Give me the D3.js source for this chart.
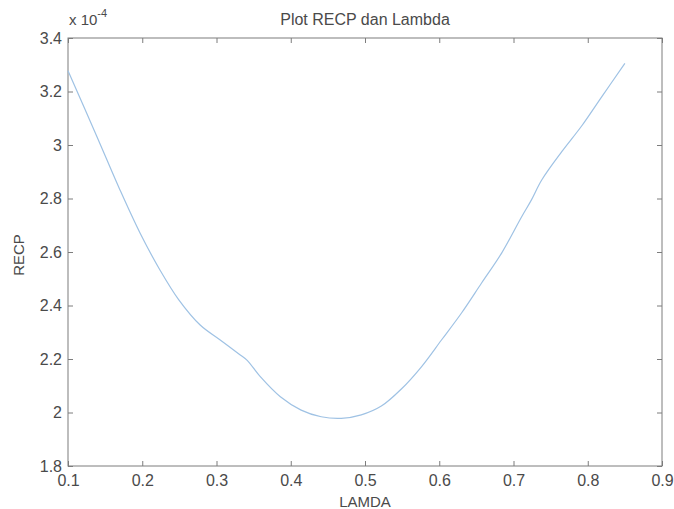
<!DOCTYPE html>
<html>
<head>
<meta charset="utf-8">
<script src="https://cdn.jsdelivr.net/npm/d3@7"></script>
<style>
  body { margin: 0; background: #fff; }
  text { font-family: "Liberation Sans", Arial, sans-serif; fill: #4a4a4a; }
</style>
</head>
<body>
<script>
var margin = { top: 38, right: 12, bottom: 43, left: 68 };
var width = 674 - margin.left - margin.right;
var height = 509 - margin.top - margin.bottom;

// lambda values and RECP (x 1e-4)
var lamda = [0.100, 0.139, 0.170, 0.197, 0.224, 0.249, 0.278, 0.305, 0.332, 0.341,
             0.359, 0.386, 0.414, 0.441, 0.468, 0.495, 0.522, 0.549, 0.576, 0.603,
             0.630, 0.657, 0.684, 0.711, 0.724, 0.738, 0.765, 0.792, 0.819, 0.850];
var recp = [3.278, 3.031, 2.832, 2.671, 2.532, 2.422, 2.327, 2.271, 2.215, 2.196,
            2.134, 2.059, 2.009, 1.984, 1.978, 1.991, 2.024, 2.088, 2.171, 2.271,
            2.372, 2.484, 2.596, 2.732, 2.794, 2.869, 2.975, 3.072, 3.181, 3.305];

var xTicks = [0.1, 0.2, 0.3, 0.4, 0.5, 0.6, 0.7, 0.8, 0.9];
var yTicks = [1.8, 2, 2.2, 2.4, 2.6, 2.8, 3, 3.2, 3.4];

var svg = d3.select("body")
    .append("svg")
    .attr("width", width + margin.left + margin.right)
    .attr("height", height + margin.top + margin.bottom)
    .append("g")
    .attr("transform", "translate(" + margin.left + "," + margin.top + ")");

var xscale = d3.scaleLinear().domain([0.1, 0.9]).range([0, width]);
var yscale = d3.scaleLinear().domain([1.8, 3.4]).range([height, 0]);

var axisColor = "#7d7d7d";

// ticks inward, matlab style, on all four sides
function styleAxis(g) {
    g.select(".domain").remove();
    g.selectAll("line").attr("stroke", axisColor);
    g.selectAll("text").style("font-size", "16px").attr("fill", "#4a4a4a");
}

svg.append("g")
    .attr("transform", "translate(0," + height + ")")
    .call(d3.axisBottom(xscale).tickValues(xTicks).tickSize(-5).tickPadding(9)
        .tickFormat(function (d) { return d3.format(".1f")(d); }))
    .call(styleAxis);

svg.append("g")
    .call(d3.axisTop(xscale).tickValues(xTicks).tickSize(-5).tickFormat(""))
    .call(styleAxis);

svg.append("g")
    .call(d3.axisLeft(yscale).tickValues(yTicks).tickSize(-5).tickPadding(6)
        .tickFormat(function (d) { return d3.format("~g")(d); }))
    .call(styleAxis);

svg.append("g")
    .attr("transform", "translate(" + width + ",0)")
    .call(d3.axisRight(yscale).tickValues(yTicks).tickSize(-5).tickFormat(""))
    .call(styleAxis);

svg.append("rect")
    .attr("width", width)
    .attr("height", height)
    .attr("fill", "none")
    .attr("stroke", axisColor)
    .attr("stroke-width", 1);

var line = d3.line()
    .x(function (d, i) { return xscale(lamda[i]); })
    .y(function (d) { return yscale(d); })
    .curve(d3.curveCatmullRom);

svg.append("path")
    .datum(recp)
    .attr("fill", "none")
    .attr("stroke", "#9fc2e4")
    .attr("stroke-width", 1.2)
    .attr("d", line);

// exponent label
var ex = svg.append("text")
    .attr("x", 1)
    .attr("y", -13)
    .style("font-size", "15px");
ex.append("tspan").text("x 10");
ex.append("tspan").attr("dy", -8).style("font-size", "11px").text("-4");

svg.append("text")
    .attr("x", width / 2)
    .attr("y", -13)
    .attr("text-anchor", "middle")
    .style("font-size", "16px")
    .text("Plot RECP dan Lambda");

svg.append("text")
    .attr("x", width / 2)
    .attr("y", height + 41)
    .attr("text-anchor", "middle")
    .style("font-size", "15px")
    .text("LAMDA");

svg.append("text")
    .attr("transform", "translate(-44," + (height / 2 + 3) + ") rotate(-90)")
    .attr("text-anchor", "middle")
    .style("font-size", "15px")
    .text("RECP");
</script>
</body>
</html>
